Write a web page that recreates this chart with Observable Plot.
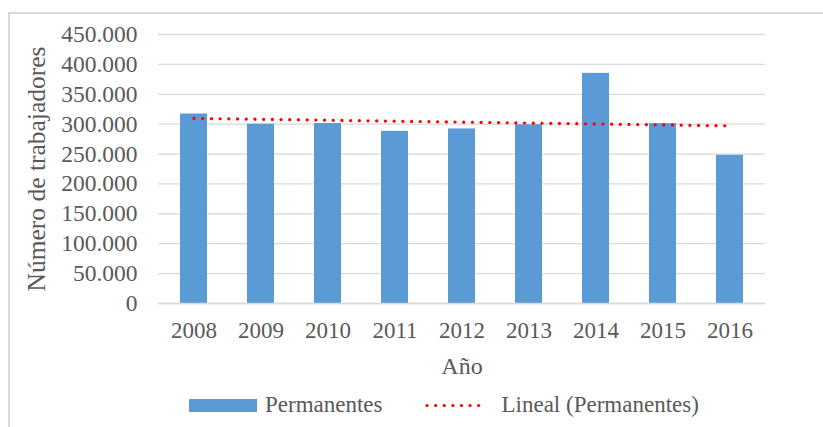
<!DOCTYPE html>
<html>
<head>
<meta charset="utf-8">
<script src="https://cdn.jsdelivr.net/npm/d3@7"></script>
<script src="https://cdn.jsdelivr.net/npm/@observablehq/plot@0.6"></script>
<style>
  body { margin: 0; background: #fff; width: 823px; height: 427px; overflow: hidden; position: relative;
         font-family: "Liberation Serif", "Times New Roman", serif; color: #595959; }
  #frame { position: absolute; left: 8px; top: 12px; width: 900px; height: 500px; box-sizing: border-box;
           border-left: 2px solid #D9D9D9; border-top: 2px solid #D9D9D9; pointer-events: none; }
  #chart { position: absolute; left: 0; top: 0; }
  #legend { position: absolute; left: 189px; top: 385px; height: 40px; display: flex; align-items: center;
            font-size: 23px; color: #595959; white-space: nowrap; }
  .sw { display: inline-block; width: 68px; height: 13px; background: #5B9BD5; margin-right: 8px; }
  .gap { display: inline-block; width: 42px; }
  .ln { display: inline-block; width: 63px; height: 13px; margin-right: 14px; }
</style>
</head>
<body>
<div id="chart"></div>
<div id="legend">
  <span class="sw"></span><span>Permanentes</span><span class="gap"></span>
  <svg class="ln" width="63" height="13"><line x1="2" x2="61" y1="6.5" y2="6.5" stroke="#FF0000" stroke-width="3.2" stroke-linecap="round" stroke-dasharray="0.1 8.5"/></svg><span>Lineal (Permanentes)</span>
</div>
<div id="frame"></div>
<script>
const years = ["2008", "2009", "2010", "2011", "2012", "2013", "2014", "2015", "2016"];
const permanentes = [317000, 300000, 301000, 288000, 292000, 299000, 385000, 301000, 248000];
const yTicks = [0, 50000, 100000, 150000, 200000, 250000, 300000, 350000, 400000, 450000];
const seriesName = "Permanentes";

const data = years.map((year, i) => ({year, value: permanentes[i]}));

// Linear trend (least squares), as the spreadsheet's "Lineal" trendline
const xs = years.map((_, i) => i + 1);
const mx = d3.mean(xs), my = d3.mean(permanentes);
const slope = d3.sum(xs, (x, i) => (x - mx) * (permanentes[i] - my)) / d3.sum(xs, x => (x - mx) ** 2);
const intercept = my - slope * mx;
const trend = years.map((year, i) => ({year, value: intercept + slope * xs[i]}));

const loc = d3.formatLocale({decimal: ",", thousands: ".", grouping: [3], currency: ["", "€"]});
const fmt = loc.format(",");

const chart = Plot.plot({
  width: 823,
  height: 385,
  marginLeft: 158,
  marginRight: 58,
  marginTop: 34,
  marginBottom: 82,
  style: {fontFamily: '"Liberation Serif", "Times New Roman", serif', fontSize: "23px", color: "#595959", background: "transparent", overflow: "visible"},
  x: {domain: years, paddingInner: 0.6, paddingOuter: 0.3, align: 0.5, label: null},
  y: {domain: [0, 450000], label: null},
  marks: [
    Plot.gridY(yTicks, {stroke: "#D9D9D9", strokeOpacity: 1, strokeWidth: 1.3}),
    Plot.barY(data, {x: "year", y: "value", fill: "#5B9BD5"}),
    Plot.ruleY([0], {stroke: "#D9D9D9", strokeWidth: 1.3}),
    Plot.line(trend, {x: "year", y: "value", stroke: "#FF0000", strokeWidth: 3.2, strokeDasharray: "0.1 8.6", strokeLinecap: "round"}),
    Plot.axisY(yTicks, {tickSize: 0, tickPadding: 21, tickFormat: fmt, fontSize: 23.5, label: null}),
    Plot.axisX({tickSize: 0, tickPadding: 18, fontSize: 23, label: null}),
    Plot.text(["Año"], {frameAnchor: "bottom", dy: 70, fontSize: 24, fill: "#595959"}),
    Plot.text(["Número de trabajadores"], {frameAnchor: "left", textAnchor: "middle", rotate: -90, dx: -122, fontSize: 25.5, fill: "#595959"})
  ]
});
document.getElementById("chart").appendChild(chart);
</script>
</body>
</html>
